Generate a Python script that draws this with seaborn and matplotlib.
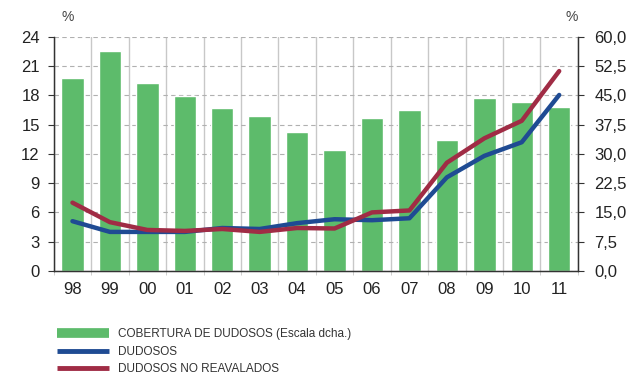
import numpy as np
import pandas as pd
import seaborn as sns
import matplotlib.pyplot as plt
from matplotlib.lines import Line2D
from matplotlib.ticker import MultipleLocator, FixedLocator, FuncFormatter

years = ["98", "99", "00", "01", "02", "03", "04", "05", "06", "07", "08", "09", "10", "11"]
cobertura = [49.5, 56.3, 48.2, 44.9, 41.7, 39.8, 35.6, 31.0, 39.2, 41.3, 33.6, 44.4, 43.3, 42.0]
dudosos = [5.1, 4.0, 4.0, 4.0, 4.4, 4.3, 4.9, 5.3, 5.2, 5.4, 9.6, 11.8, 13.2, 18.05]
no_reavalados = [7.0, 5.0, 4.2, 4.1, 4.3, 4.0, 4.4, 4.35, 6.0, 6.2, 11.1, 13.6, 15.4, 20.5]

green = "#5dbb6b"
blue = "#1f4b93"
red = "#a02c45"

sns.set_style("white")
plt.rcParams["font.family"] = ["Liberation Sans", "DejaVu Sans"]

fig = plt.figure(figsize=(6.4, 3.81), dpi=100)
ax = fig.add_axes([0.084, 0.289, 0.819, 0.614])

df_bar = pd.DataFrame({"year": years, "cob": cobertura})
sns.barplot(data=df_bar, x="year", y="cob", color=green, saturation=1, width=0.6, ax=ax, zorder=2)
ax.set_xlim(-0.5, len(years) - 0.5)

# gridlines
ax.xaxis.set_minor_locator(FixedLocator(np.arange(len(years) + 1) - 0.5))
ax.grid(axis="x", which="minor", color="#c8c8c8", lw=1.0, ls="-", zorder=0)
ax.grid(axis="y", which="major", color="#b0b0b0", lw=0.8, ls=(0, (4, 3)), zorder=0)
ax.set_axisbelow(True)

ax2 = ax.twinx()
x = np.arange(len(years))
sns.lineplot(x=x, y=dudosos, color=blue, lw=3.2, ax=ax2)
sns.lineplot(x=x, y=no_reavalados, color=red, lw=3.2, ax=ax2)
ax2.set_xlim(-0.5, len(years) - 0.5)

ax.set_ylim(0, 60)
ax.yaxis.set_major_locator(MultipleLocator(7.5))
ax.yaxis.set_major_formatter(FuncFormatter(lambda v, p: f"{v:.1f}".replace(".", ",")))
ax.yaxis.tick_right()
ax2.set_ylim(0, 24)
ax2.yaxis.set_major_locator(MultipleLocator(3))
ax2.yaxis.tick_left()

for a in (ax, ax2):
    a.set_xlabel("")
    a.set_ylabel("")
    a.spines["top"].set_visible(False)
    for s in ("left", "right", "bottom"):
        a.spines[s].set_color("#333333")
        a.spines[s].set_linewidth(0.9)

ax.tick_params(axis="y", which="major", right=True, left=False, labelright=True, labelleft=False,
               length=4, width=0.8, color="#333333", labelsize=12, labelcolor="#222222", pad=8)
ax2.tick_params(axis="y", which="major", left=True, right=False, labelleft=True, labelright=False,
                length=4, width=0.8, color="#333333", labelsize=12, labelcolor="#222222", pad=6)
ax.tick_params(axis="x", which="major", length=0, labelsize=12, labelcolor="#222222", pad=8)
ax.tick_params(axis="x", which="minor", bottom=True, length=3, color="#c8c8c8")

fig.text(0.106, 0.955, "%", fontsize=10, color="#444444", ha="center", va="center")
fig.text(0.893, 0.955, "%", fontsize=10, color="#444444", ha="center", va="center")

handles = [
    Line2D([], [], color=green, lw=7, solid_capstyle="butt"),
    Line2D([], [], color=blue, lw=3.5, solid_capstyle="butt"),
    Line2D([], [], color=red, lw=3.5, solid_capstyle="butt"),
]
labels = ["COBERTURA DE DUDOSOS (Escala dcha.)", "DUDOSOS", "DUDOSOS NO REAVALADOS"]
leg = fig.legend(handles, labels, loc="lower left", bbox_to_anchor=(0.073, -0.012), frameon=False,
                 handlelength=4.4, handletextpad=0.7, labelspacing=0.45,
                 prop={"family": ["Liberation Sans Narrow", "Liberation Sans"], "size": 8.5})
for t in leg.get_texts():
    t.set_color("#333333")

fig.savefig("out.png", dpi=100)
